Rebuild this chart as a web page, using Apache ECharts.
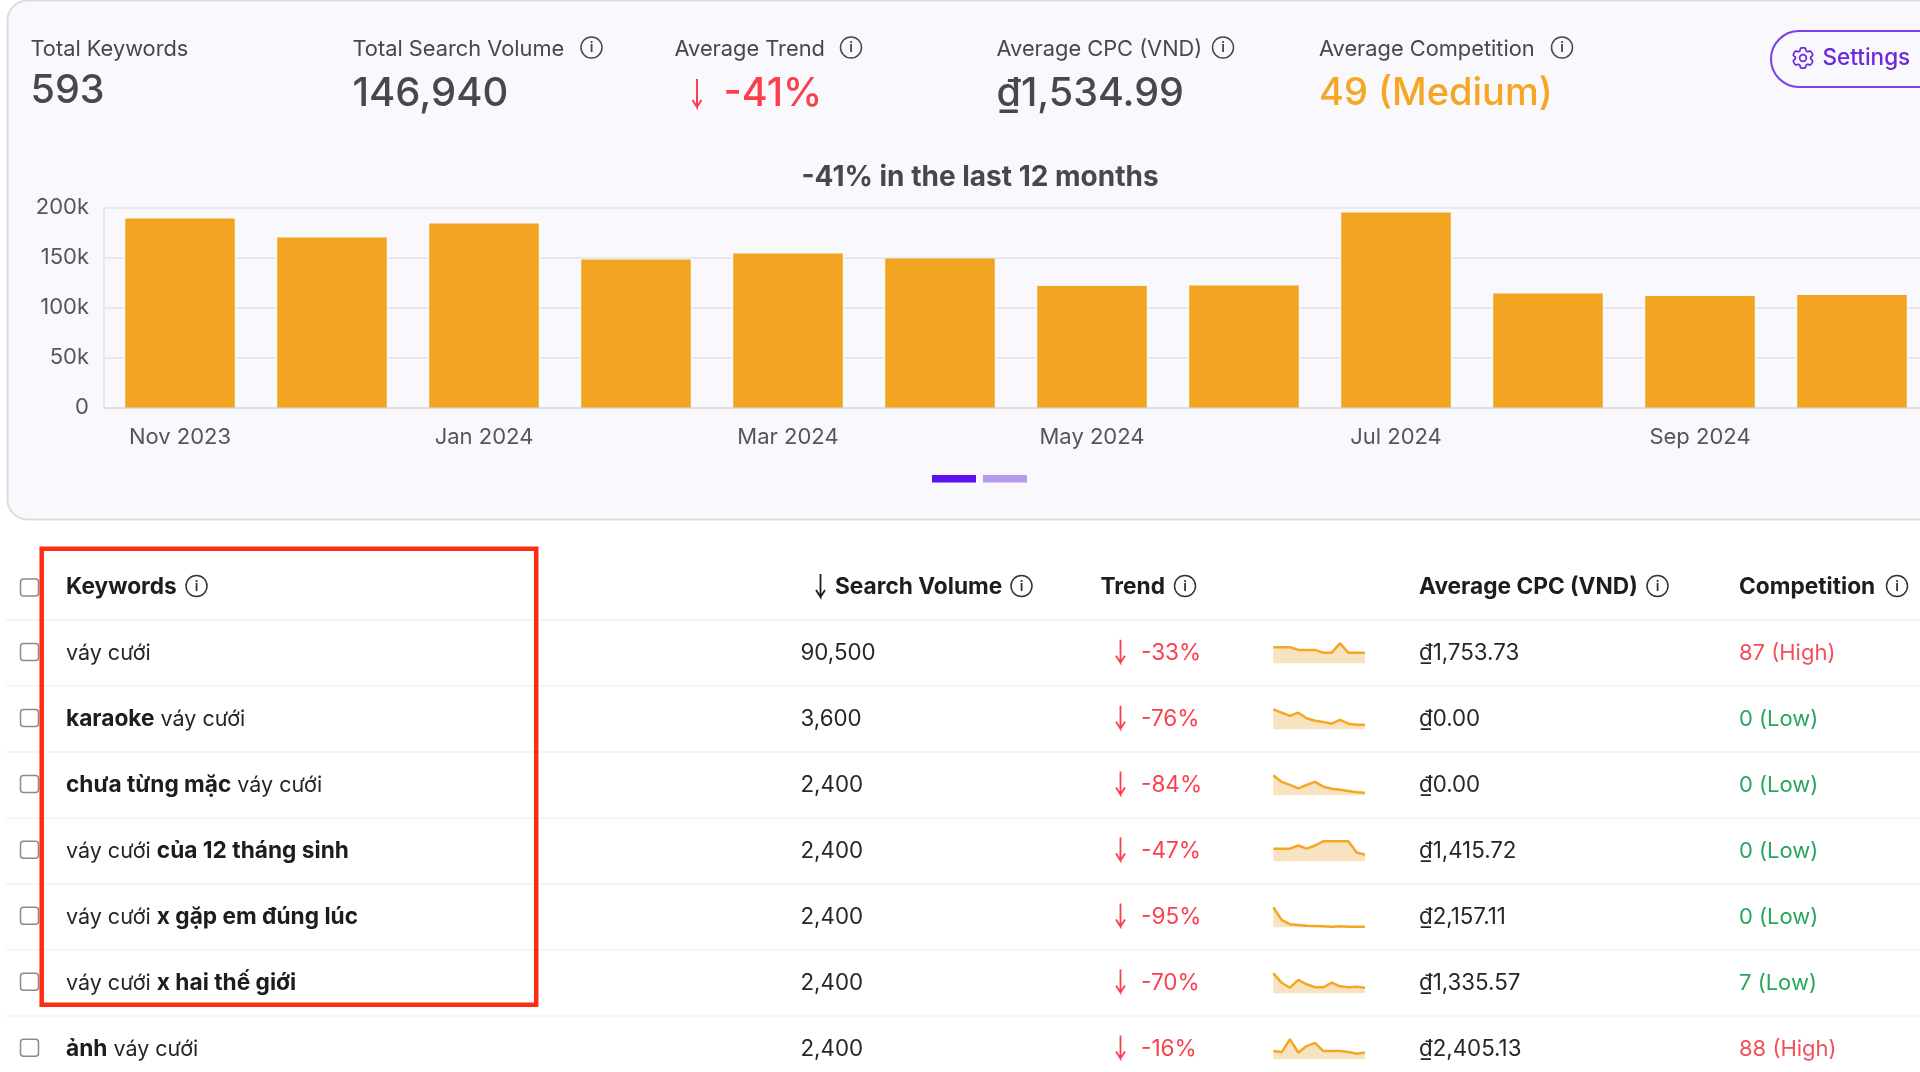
<!DOCTYPE html>
<html>
<head>
<meta charset="utf-8">
<title>Keywords overview</title>
<style>
    html, body { margin: 0; padding: 0; background: #fff; overflow: hidden; }
    #main { width: 1920px; height: 1072px; }
</style>
<script src="https://cdn.jsdelivr.net/npm/echarts@6/dist/echarts.min.js"></script>
</head>
<body>
<div id="main"></div>
<script>
// monthly volume
const months = ['Nov 2023', 'Dec 2023', 'Jan 2024', 'Feb 2024', 'Mar 2024', 'Apr 2024', 'May 2024', 'Jun 2024', 'Jul 2024', 'Aug 2024', 'Sep 2024', 'Oct 2024'];
const volumes = [189000, 170000, 184000, 148000, 154000, 149000, 121500, 122000, 195000, 114000, 111500, 112500];

// summary cards
const cardLabels = ['Total Keywords', 'Total Search Volume', 'Average Trend', 'Average CPC (VND)', 'Average Competition'];
const cardValues = ['593', '146,940', '-41%', '₫1,534.99', '49 (Medium)'];

// table rows
const keywords = [
    'váy cưới',
    '{b|karaoke} váy cưới',
    '{b|chưa từng mặc} váy cưới',
    'váy cưới {b|của 12 tháng sinh}',
    'váy cưới {b|x gặp em đúng lúc}',
    'váy cưới {b|x hai thế giới}',
    '{b|ảnh} váy cưới'
];
const searchVolumes = ['90,500', '3,600', '2,400', '2,400', '2,400', '2,400', '2,400'];
const trends = ['-33%', '-76%', '-84%', '-47%', '-95%', '-70%', '-16%'];
const cpcs = ['₫1,753.73', '₫0.00', '₫0.00', '₫1,415.72', '₫2,157.11', '₫1,335.57', '₫2,405.13'];
const competition = ['87 (High)', '0 (Low)', '0 (Low)', '0 (Low)', '0 (Low)', '7 (Low)', '88 (High)'];

// sparklines, 12 months per row, relative to the row max
const sparkLines = [
    [80, 80, 80, 67, 67, 67, 53, 53, 100, 53, 53, 53],
    [100, 83, 67, 83, 55, 43, 37, 28, 47, 28, 23, 23],
    [100, 67, 52, 35, 52, 67, 43, 33, 28, 22, 15, 13],
    [63, 63, 63, 79, 63, 79, 100, 100, 100, 100, 44, 33],
    [100, 37, 15, 12, 8, 7, 5, 3, 5, 3, 3, 3],
    [100, 53, 28, 67, 45, 30, 30, 53, 35, 30, 33, 28],
    [41, 36, 100, 34, 66, 82, 41, 41, 41, 36, 28, 34]
];

const FONT = 'Inter, sans-serif';
const RED = '#fb3f4c';
const ORANGE = '#f0a41f';
const GRAY = '#47474c';
const DARK = '#26262a';
const HEAD = '#1d1d20';
const ROW_H = 65.95;
const GEAR = 'M9.594 3.94c.09-.542.56-.94 1.11-.94h2.593c.55 0 1.02.398 1.11.94l.213 1.281c.063.374.313.686.645.87.074.04.147.083.22.127.325.196.72.257 1.075.124l1.217-.456a1.125 1.125 0 0 1 1.37.49l1.296 2.247a1.125 1.125 0 0 1-.26 1.431l-1.003.827c-.293.241-.438.613-.43.992a7.723 7.723 0 0 1 0 .255c-.008.378.137.75.43.991l1.004.827c.424.35.534.955.26 1.43l-1.298 2.247a1.125 1.125 0 0 1-1.369.491l-1.217-.456c-.355-.133-.75-.072-1.076.124a6.47 6.47 0 0 1-.22.128c-.331.183-.581.495-.644.869l-.213 1.281c-.09.543-.56.94-1.11.94h-2.594c-.55 0-1.019-.398-1.11-.94l-.213-1.281c-.062-.374-.312-.686-.644-.87a6.52 6.52 0 0 1-.22-.127c-.325-.196-.72-.257-1.076-.124l-1.217.456a1.125 1.125 0 0 1-1.369-.49l-1.297-2.247a1.125 1.125 0 0 1 .26-1.431l1.004-.827c.292-.24.437-.613.43-.991a6.932 6.932 0 0 1 0-.255c.007-.38-.138-.751-.43-.992l-1.004-.827a1.125 1.125 0 0 1-.26-1.43l1.297-2.247a1.125 1.125 0 0 1 1.37-.491l1.216.456c.356.133.751.072 1.076-.124.072-.044.146-.086.22-.128.332-.183.582-.495.644-.869l.214-1.28Z M15 12a3 3 0 1 1-6 0 3 3 0 0 1 6 0Z';

// graphic has no plain path type, so the gear goes in as a registered shape
echarts.graphic.registerShape('gearIcon', echarts.graphic.extendPath(GEAR, {}));

function label(text, x, y, size, color, weight, extra) {
    return {
        type: 'text', x, y, z: 20, silent: true,
        style: Object.assign({
            text, fill: color, font: `${weight || 400} ${size}px ${FONT}`,
            verticalAlign: 'middle', align: 'left'
        }, extra)
    };
}

function infoIcon(cx, cy, color) {
    return [
        { type: 'circle', z: 20, silent: true, shape: { cx, cy, r: 10.5 }, style: { fill: 'none', stroke: color, lineWidth: 1.5 } },
        label('i', cx, cy + 0.5, 14, color, 600, { align: 'center' })
    ];
}

function downArrow(x, top, bottom, color, lineWidth) {
    return {
        type: 'polyline', z: 20, silent: true,
        shape: { points: [[x, top], [x, bottom], [x - 4.5, bottom - 7], [x, bottom], [x + 4.5, bottom - 7]] },
        style: { fill: 'none', stroke: color, lineWidth }
    };
}

function checkbox(y) {
    return {
        type: 'rect', z: 20, silent: true,
        shape: { x: 20.5, y: y - 8.5, width: 18, height: 17, r: 3 },
        style: { fill: '#fff', stroke: '#8b8b8f', lineWidth: 1.5 }
    };
}

function separator(y) {
    return {
        type: 'rect', z: 5, silent: true,
        shape: { x: 6, y: y - 1, width: 1914, height: 2 },
        style: { fill: '#f5f5f6' }
    };
}

function buildGraphics() {
    const cardX = [30.5, 352.5, 674.5, 996.5, 1319];
    const cardIcons = [null, 591.5, 851, 1223, 1562];
    const els = [];

    // panel
    els.push({
        type: 'rect', z: -10, silent: true,
        shape: { x: 7.5, y: 0.5, width: 2000, height: 519, r: 20 },
        style: { fill: '#f8f8fd', stroke: '#dcdce1', lineWidth: 2 }
    });

    // summary cards
    cardLabels.forEach((text, i) => {
        els.push(label(text, cardX[i], 49, 21.8, GRAY));
        if (cardIcons[i]) els.push(...infoIcon(cardIcons[i], 47.5, GRAY));
    });
    els.push(label(cardValues[0], cardX[0], 91.5, 39.5, GRAY, 500));
    els.push(label(cardValues[1], cardX[1], 94, 40, GRAY, 500));
    els.push(downArrow(697, 79, 107, RED, 2));
    els.push(label(cardValues[2], 723.5, 94, 39.5, RED, 500));
    els.push(label(cardValues[3], cardX[3], 94, 39.5, GRAY, 500));
    els.push(label(cardValues[4], cardX[4], 94, 38, '#f5a623', 500));

    // settings button
    els.push({
        type: 'rect', z: 20, silent: true,
        shape: { x: 1771, y: 31, width: 200, height: 56, r: 28 },
        style: { fill: 'none', stroke: '#7b3fe4', lineWidth: 2 }
    });
    els.push({
        type: 'gearIcon', z: 20, silent: true, x: 1789.5, y: 44.5, scaleX: 1.125, scaleY: 1.125,
        style: { fill: 'none', stroke: '#6d28d9', lineWidth: 1.5 }
    });
    els.push(label('Settings', 1822.5, 58.5, 22.5, '#6d28d9', 500));

    // pager
    els.push({ type: 'rect', z: 20, silent: true, shape: { x: 932, y: 475, width: 44, height: 7.5 }, style: { fill: '#5f10ee' } });
    els.push({ type: 'rect', z: 20, silent: true, shape: { x: 983, y: 475, width: 44, height: 7.5 }, style: { fill: '#b79ae8' } });

    // table header
    els.push(checkbox(587.5));
    els.push(label('Keywords', 66, 587.5, 22.7, HEAD, 700));
    els.push(...infoIcon(196.5, 586, '#333'));
    els.push(downArrow(820.5, 574, 597, HEAD, 1.8));
    els.push(label('Search Volume', 835, 587.5, 22.7, HEAD, 700));
    els.push(...infoIcon(1021.5, 586, '#333'));
    els.push(label('Trend', 1100.5, 587.5, 22.7, HEAD, 700));
    els.push(...infoIcon(1185, 586, '#333'));
    els.push(label('Average CPC (VND)', 1419, 587.5, 22.7, HEAD, 700));
    els.push(...infoIcon(1657.5, 586, '#333'));
    els.push(label('Competition', 1739, 587.5, 22.7, HEAD, 700));
    els.push(...infoIcon(1897, 586, '#333'));
    els.push(separator(620));

    // table rows
    keywords.forEach((keyword, i) => {
        const y = 653.7 + ROW_H * i;
        els.push(checkbox(y - 1.7));
        els.push(label(keyword, 66, y, 21.5, DARK, 400, {
            rich: { b: { font: `700 22.7px ${FONT}`, fill: HEAD } }
        }));
        els.push(label(searchVolumes[i], 800.5, y, 22.3, DARK));
        els.push(downArrow(1120.5, y - 14, y + 9, RED, 1.8));
        els.push(label(trends[i], 1141, y, 22.6, RED));
        els.push(label(cpcs[i], 1419, y, 22.3, DARK));
        const high = competition[i].includes('High');
        els.push(label(competition[i], 1739, y, 22, high ? '#f2505a' : '#27a65c'));
        els.push(separator(y + 32.3));
    });

    // highlight box
    els.push({
        type: 'rect', z: 30, silent: true,
        shape: { x: 41.7, y: 548.8, width: 494.5, height: 456 },
        style: { fill: 'none', stroke: '#fb2d12', lineWidth: 4.5 }
    });

    return els;
}

// the last band runs past the canvas edge, outerBoundsMode none keeps its width
const grids = [{ left: 104, top: 207.5, width: 1824, height: 200, outerBoundsMode: 'none' }];
const xAxes = [{
    type: 'category',
    data: months,
    gridIndex: 0,
    axisTick: { show: false },
    axisLine: { lineStyle: { color: '#dedee3', width: 2 } },
    axisLabel: { interval: 1, margin: 19, fontFamily: 'Inter', fontSize: 22, color: '#55555a' }
}];
const yAxes = [{
    type: 'value',
    gridIndex: 0,
    min: 0,
    max: 200000,
    interval: 50000,
    axisLine: { show: true, lineStyle: { color: '#e8e8ed', width: 2 } },
    axisTick: { show: false },
    splitLine: { lineStyle: { color: '#e8e8ed', width: 2 } },
    axisLabel: {
        margin: 15, fontFamily: 'Inter', fontSize: 22, color: '#55555a',
        formatter: (v) => (v ? v / 1000 + 'k' : '0')
    }
}];
const series = [{
    type: 'bar',
    xAxisIndex: 0,
    yAxisIndex: 0,
    data: volumes,
    barWidth: 109.5,
    itemStyle: { color: ORANGE },
    silent: true
}];

// one small grid per table row
sparkLines.forEach((values, i) => {
    const n = i + 1;
    grids.push({ left: 1273.3, top: 643.3 + 66 * i, width: 91.7, height: 20, outerBoundsMode: 'none' });
    xAxes.push({ type: 'category', gridIndex: n, show: false, boundaryGap: false, data: months });
    yAxes.push({ type: 'value', gridIndex: n, show: false, min: 0, max: 100 });
    series.push({
        type: 'line',
        xAxisIndex: n,
        yAxisIndex: n,
        data: values,
        clip: false,
        silent: true,
        symbol: 'none',
        lineStyle: { color: '#f5a623', width: 2.5 },
        areaStyle: { color: '#f8e3c0', opacity: 1 }
    });
});

const myChart = echarts.init(document.getElementById('main'));

myChart.setOption({
    animation: false,
    backgroundColor: '#fff',
    title: {
        text: '-41% in the last 12 months',
        left: 975,
        textAlign: 'center',
        top: 159,
        textStyle: { fontFamily: 'Inter', fontSize: 28, fontWeight: 700, color: '#47474c' }
    },
    grid: grids,
    xAxis: xAxes,
    yAxis: yAxes,
    series,
    graphic: { elements: buildGraphics() }
});

window.addEventListener('resize', () => myChart.resize());
</script>
</body>
</html>
